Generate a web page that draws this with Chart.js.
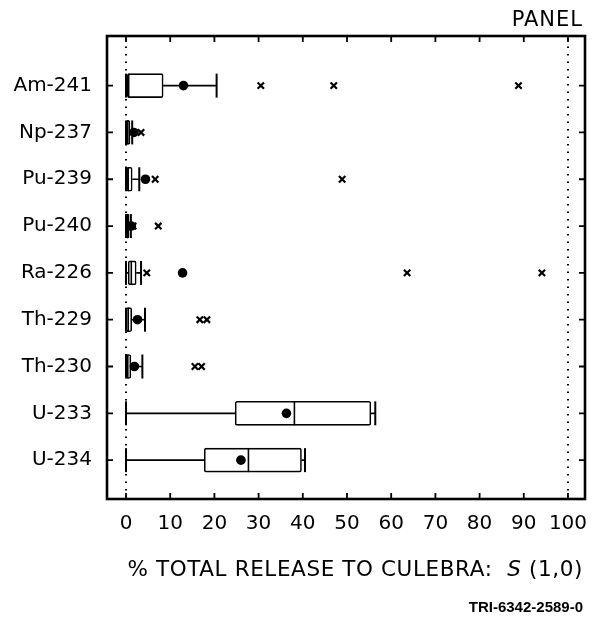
<!DOCTYPE html>
<html><head><meta charset="utf-8">
<script src="https://cdn.jsdelivr.net/npm/chart.js@4.4.0/dist/chart.umd.min.js"></script>
<style>html,body{margin:0;padding:0;background:#fff}</style>
</head><body><canvas id="c" width="603" height="622"></canvas>
<script>
// ---- data ----
const categories = ['Am-241','Np-237','Pu-239','Pu-240','Ra-226','Th-229','Th-230','U-233','U-234'];
const whiskerLow  = [0, 0, 0, 0, 0, 0, 0, 0, 0];
const q1          = [0.3, 0, 0.15, 0, 0.5, 0, 0, 24.7, 17.7];
const median      = [0.6, 0.4, 0.5, 0.3, 1.2, 0.5, 0.4, 38.1, 27.7];
const q3          = [8.4, 0.9, 1.4, 0.7, 2.3, 1.3, 1.1, 55.4, 39.7];
const whiskerHigh = [20.5, 1.4, 3.0, 1.1, 3.4, 4.3, 3.7, 56.4, 40.5];
const means       = [13.0, 1.8, 4.4, 1.2, 12.8, 2.6, 1.9, 36.3, 26.0];
const outliers    = [[30.5, 47.0, 88.8], [3.4], [6.6, 48.9], [1.6, 7.3], [4.7, 63.6, 94.1], [16.7, 18.3], [15.6, 17.1], [], []];
const xTicks = [0, 10, 20, 30, 40, 50, 60, 70, 80, 90, 100];
const refLines = [0, 100];
const xTitleMain = '% TOTAL RELEASE TO CULEBRA:  ';
const xTitleVar = 'S';
const xTitleArgs = ' (1,0)';
const panelLabel = 'PANEL';
const figureId = 'TRI-6342-2589-0';

// ---- build datasets ----
const boxData = categories.map((c, i) => ({ x: [q1[i], q3[i]], y: i }));
const meanData = means.map((m, i) => ({ x: m, y: i }));
const outData = [];
outliers.forEach((arr, i) => arr.forEach(v => outData.push({ x: v, y: i })));

const FONT = '"DejaVu Sans", sans-serif';
const CAP_HALF = 0.256;

const boxPlugin = {
  id: 'boxPlugin',
  beforeDatasetsDraw(chart) {
    const { ctx, chartArea: a, scales: { x, y } } = chart;
    ctx.save();
    ctx.strokeStyle = '#000';
    ctx.lineWidth = 2;
    ctx.setLineDash([1.5, 6]);
    refLines.forEach(v => {
      const px = x.getPixelForValue(v);
      ctx.beginPath(); ctx.moveTo(px, a.top + 3); ctx.lineTo(px, a.bottom - 2); ctx.stroke();
    });
    ctx.setLineDash([]);
    categories.forEach((c, i) => {
      const py = y.getPixelForValue(i);
      ctx.lineWidth = 1.6;
      ctx.beginPath();
      ctx.moveTo(x.getPixelForValue(q3[i]), py); ctx.lineTo(x.getPixelForValue(whiskerHigh[i]), py);
      ctx.moveTo(x.getPixelForValue(whiskerLow[i]), py); ctx.lineTo(x.getPixelForValue(q1[i]), py);
      ctx.stroke();
      ctx.lineWidth = 2;
      [whiskerLow[i], whiskerHigh[i]].forEach(v => {
        const px = x.getPixelForValue(v);
        ctx.beginPath();
        ctx.moveTo(px, y.getPixelForValue(i - CAP_HALF));
        ctx.lineTo(px, y.getPixelForValue(i + CAP_HALF));
        ctx.stroke();
      });
    });
    ctx.restore();
  },
  afterDatasetDraw(chart, args) {
    if (args.index !== 0) return;
    const { ctx, scales: { x, y } } = chart;
    ctx.save();
    ctx.strokeStyle = '#000';
    ctx.lineWidth = 1.6;
    categories.forEach((c, i) => {
      const px = x.getPixelForValue(median[i]);
      ctx.beginPath();
      ctx.moveTo(px, y.getPixelForValue(i - CAP_HALF));
      ctx.lineTo(px, y.getPixelForValue(i + CAP_HALF));
      ctx.stroke();
    });
    ctx.restore();
  },
  afterDraw(chart) {
    const { ctx, chartArea: a, scales: { x, y } } = chart;
    ctx.save();
    ctx.strokeStyle = '#000';
    ctx.lineWidth = 2.6;
    ctx.strokeRect(a.left, a.top, a.right - a.left, a.bottom - a.top);
    ctx.lineWidth = 1.8;
    const tl = 6;
    xTicks.forEach(v => {
      const px = x.getPixelForValue(v);
      ctx.beginPath();
      ctx.moveTo(px, a.top); ctx.lineTo(px, a.top + tl);
      ctx.moveTo(px, a.bottom); ctx.lineTo(px, a.bottom - tl);
      ctx.stroke();
    });
    categories.forEach((c, i) => {
      const py = y.getPixelForValue(i);
      ctx.beginPath();
      ctx.moveTo(a.left, py); ctx.lineTo(a.left + tl, py);
      ctx.moveTo(a.right, py); ctx.lineTo(a.right - tl, py);
      ctx.stroke();
    });
    ctx.fillStyle = '#000';
    ctx.textBaseline = 'middle';
    ctx.textAlign = 'right';
    ctx.letterSpacing = '1px';
    ctx.font = '21px ' + FONT;
    ctx.fillText(panelLabel, 583, 21);
    ctx.letterSpacing = '0.6px';
    const fN = '21.5px ' + FONT, fI = 'italic 21.5px ' + FONT;
    ctx.font = fN; const w1 = ctx.measureText(xTitleMain).width;
    const w3 = ctx.measureText(xTitleArgs).width;
    ctx.font = fI; const w2 = ctx.measureText(xTitleVar).width;
    const total = w1 + w2 + w3;
    const sx = 583 - total;
    const ty = 570;
    ctx.textAlign = 'left';
    ctx.font = fN; ctx.fillText(xTitleMain, sx, ty);
    ctx.font = fI; ctx.fillText(xTitleVar, sx + w1, ty);
    ctx.font = fN; ctx.fillText(xTitleArgs, sx + w1 + w2, ty);
    ctx.letterSpacing = '0px';
    ctx.font = 'bold 15px "Liberation Sans", sans-serif';
    ctx.textAlign = 'right';
    ctx.fillText(figureId, 583, 608);
    ctx.restore();
  }
};

new Chart(document.getElementById('c'), {
  data: {
    datasets: [
      { type: 'bar', indexAxis: 'y', data: boxData, backgroundColor: '#fff', borderColor: '#000',
        borderWidth: 1.6, borderSkipped: false, borderRadius: 2, barThickness: 24, order: 3 },
      { type: 'scatter', data: outData, pointStyle: 'crossRot', pointRadius: 4.5, borderWidth: 2.2,
        borderColor: '#000', backgroundColor: '#000', order: 2 },
      { type: 'scatter', data: meanData, pointRadius: 4.8, borderWidth: 0,
        backgroundColor: '#000', borderColor: '#000', order: 1 }
    ]
  },
  options: {
    responsive: false,
    devicePixelRatio: 1,
    animation: false,
    events: [],
    layout: { padding: { top: 36, right: 18, left: 0, bottom: 0 } },
    plugins: { legend: { display: false }, tooltip: { enabled: false }, title: { display: false } },
    scales: {
      x: {
        type: 'linear', position: 'bottom', min: -4.3, max: 103.85, offset: false,
        afterBuildTicks: s => { s.ticks = xTicks.map(v => ({ value: v })); },
        afterFit: s => { s.height = 123; },
        grid: { display: false, drawTicks: false },
        border: { display: false },
        ticks: { color: '#000', font: { family: FONT, size: 20 }, padding: 13, maxRotation: 0, autoSkip: false }
      },
      y: {
        type: 'linear', position: 'left', min: -1.06, max: 8.83, reverse: true, offset: false,
        afterBuildTicks: s => { s.ticks = categories.map((c, i) => ({ value: i })); },
        afterFit: s => { s.width = 107; },
        grid: { display: false, drawTicks: false },
        border: { display: false },
        ticks: { color: '#000', font: { family: FONT, size: 20 }, padding: 15, autoSkip: false,
          callback: v => categories[v] }
      }
    }
  },
  plugins: [boxPlugin]
});
</script>
</body></html>
